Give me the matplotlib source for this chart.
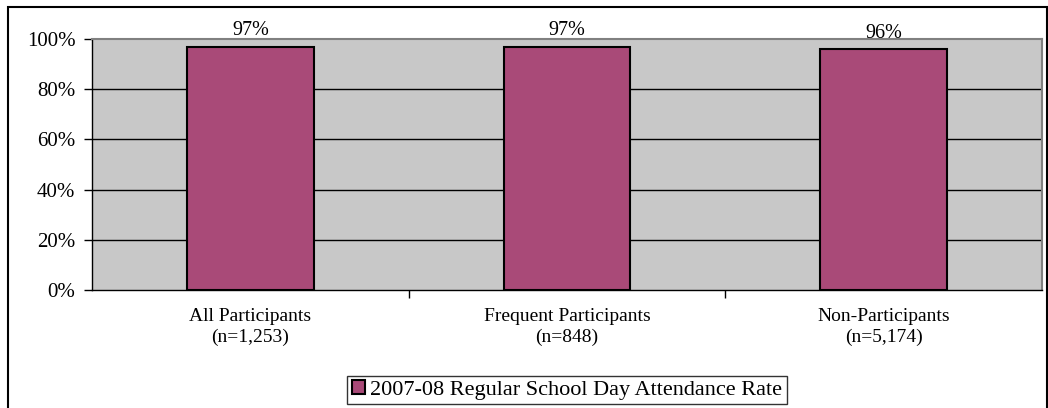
import matplotlib
matplotlib.use("Agg")
import matplotlib.pyplot as plt
from matplotlib.patches import Rectangle
from matplotlib.ticker import FuncFormatter

categories = ["All Participants\n(n=1,253)", "Frequent Participants\n(n=848)", "Non-Participants\n(n=5,174)"]
values = [97, 97, 96]
labels = ["97%", "97%", "96%"]
series_name = "2007-08 Regular School Day Attendance Rate"
yticks = [0, 20, 40, 60, 80, 100]

W, H = 1048, 408
fig = plt.figure(figsize=(W / 100, H / 100), dpi=100)
plt.rcParams['font.family'] = ['Liberation Serif', 'DejaVu Serif']

ax = fig.add_axes([92 / W, 1 - 290 / H, (1042 - 92) / W, (290 - 39) / H])
ax.set_facecolor("#C8C8C8")
x = list(range(len(categories)))
bars = ax.bar(x, values, width=0.4, color="#A94A78", edgecolor="black", linewidth=1.5, zorder=3,
              label=series_name)
ax.set_xlim(-0.5, len(categories) - 0.5)
ax.set_ylim(0, 100)
ax.set_yticks(yticks)
ax.yaxis.set_major_formatter(FuncFormatter(lambda v, p: f"{int(v)}%"))
for yv in yticks[1:-1]:
    ax.axhline(yv, color="black", linewidth=1, zorder=1)
ax.set_xticks(x)
ax.set_xticklabels(categories, fontsize=14, linespacing=1.3)
ax.set_xticks([i + 0.5 for i in x[:-1]], minor=True)
ax.tick_params(axis="x", which="major", length=0, pad=13)
ax.tick_params(axis="x", which="minor", length=6, width=1, direction="out")
ax.tick_params(axis="y", length=6, width=1, direction="out", labelsize=15, pad=6)
for s in ["top", "right"]:
    ax.spines[s].set_color("#808080")
    ax.spines[s].set_linewidth(1.5)
for s in ["left", "bottom"]:
    ax.spines[s].set_color("black")
    ax.spines[s].set_linewidth(1)
for b, lab in zip(bars, labels):
    ax.text(b.get_x() + b.get_width() / 2, b.get_height() + 2.5, lab, ha="center", va="bottom",
            fontsize=14.5)

leg = fig.legend(handles=[bars], labels=[series_name], loc="center",
                 bbox_to_anchor=(567 / W, 1 - 390 / H), frameon=True, fontsize=16,
                 fancybox=False, edgecolor="black", handlelength=0.6, handleheight=0.6,
                 handletextpad=0.25, borderpad=0.2, borderaxespad=0)
leg.get_frame().set_linewidth(1)

fig.patches.append(Rectangle((8 / W, -0.05), (1047 - 8) / W, 1 - 7 / H + 0.05,
                             transform=fig.transFigure, fill=False, edgecolor="black",
                             linewidth=1.5))
fig.savefig("out.png", dpi=100)
